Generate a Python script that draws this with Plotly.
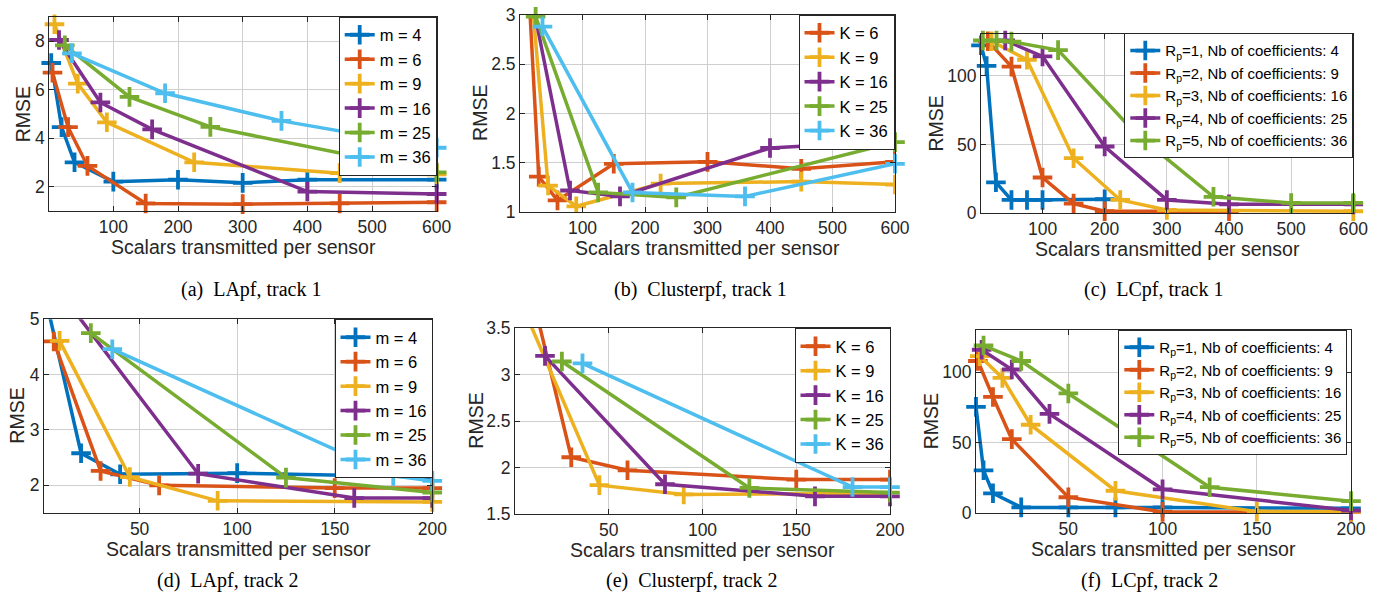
import plotly.graph_objects as go

W, H = 1379, 602

# MATLAB default colour order
BLUE, ORANGE, YELLOW, PURPLE, GREEN, CYAN = "#0072BD", "#D95319", "#EDB120", "#7E2F8E", "#77AC30", "#4DBEEE"

# ---------------- (a) LApf, track 1 ----------------
a_names = ["m = 4", "m = 6", "m = 9", "m = 16", "m = 25", "m = 36"]
a_x_m4 = [4, 20, 40, 100, 200, 300, 400, 600]
a_y_m4 = [7.1, 4.45, 3.0, 2.2, 2.28, 2.15, 2.28, 2.28]
a_x_m6 = [6, 30, 60, 150, 300, 450, 600]
a_y_m6 = [6.7, 4.45, 2.85, 1.3, 1.27, 1.3, 1.35]
a_x_m9 = [9, 45, 90, 225, 450, 600]
a_y_m9 = [8.7, 6.25, 4.65, 3.0, 2.55, 2.5]
a_x_m16 = [16, 80, 160, 400, 600]
a_y_m16 = [8.05, 5.47, 4.36, 1.79, 1.69]
a_x_m25 = [25, 125, 250, 600]
a_y_m25 = [7.83, 5.7, 4.46, 2.58]
a_x_m36 = [36, 180, 360, 600]
a_y_m36 = [7.5, 5.85, 4.71, 3.6]

# ---------------- (b) Clusterpf, track 1 ----------------
b_names = ["K = 6", "K = 9", "K = 16", "K = 25", "K = 36"]
b_x_k6 = [6, 30, 60, 150, 300, 450, 600]
b_y_k6 = [4.2, 1.36, 1.12, 1.49, 1.51, 1.44, 1.51]
b_x_k9 = [9, 45, 90, 225, 450, 600]
b_y_k9 = [3.9, 1.27, 1.06, 1.29, 1.31, 1.28]
b_x_k16 = [16, 80, 160, 400, 600]
b_y_k16 = [3.25, 1.22, 1.16, 1.65, 1.72]
b_x_k25 = [25, 125, 250, 600]
b_y_k25 = [2.98, 1.2, 1.15, 1.71]
b_x_k36 = [36, 180, 360, 600]
b_y_k36 = [2.88, 1.2, 1.16, 1.49]

# ---------------- (c) LCpf, track 1 ----------------
c_names = ["R<sub>p</sub>=1, Nb of coefficients: 4",
           "R<sub>p</sub>=2, Nb of coefficients: 9",
           "R<sub>p</sub>=3, Nb of coefficients: 16",
           "R<sub>p</sub>=4, Nb of coefficients: 25",
           "R<sub>p</sub>=5, Nb of coefficients: 36"]
c_x_r1 = [1, 10, 25, 50, 75, 100, 200]
c_y_r1 = [122, 107, 22.5, 9.7, 9.7, 9.7, 10.2]
c_x_r2 = [12, 50, 100, 150, 200, 400]
c_y_r2 = [125, 106.5, 26, 7, 1.5, 1.5]
c_x_r3 = [18, 75, 150, 225, 300, 600]
c_y_r3 = [125, 111.5, 40, 9.7, 2.4, 1.5]
c_x_r4 = [40, 100, 200, 300, 400, 600]
c_y_r4 = [125.5, 114, 48.5, 9.7, 6.5, 6.5]
c_x_r5 = [4, 26, 50, 125, 250, 375, 500, 600]
c_y_r5 = [125.5, 125.5, 124.7, 118.5, 58, 12, 7.5, 7.5]

# ---------------- (d) LApf, track 2 ----------------
d_x_m4 = [3, 20, 40, 100, 200]
d_y_m4 = [5.2, 2.58, 2.2, 2.22, 2.15]
d_x_m6 = [6, 30, 60, 150, 200]
d_y_m6 = [4.6, 2.26, 2.0, 1.95, 1.95]
d_x_m9 = [9, 45, 90, 200]
d_y_m9 = [4.61, 2.15, 1.72, 1.7]
d_x_m16 = [15, 80, 160, 200]
d_y_m16 = [5.22, 2.21, 1.77, 1.77]
d_x_m25 = [25, 125, 200]
d_y_m25 = [4.75, 2.14, 1.87]
d_x_m36 = [36, 180, 200]
d_y_m36 = [4.46, 2.17, 2.08]

# ---------------- (e) Clusterpf, track 2 ----------------
e_x_k6 = [6, 30, 60, 150, 200]
e_y_k6 = [4.12, 2.11, 1.97, 1.87, 1.87]
e_x_k9 = [5, 45, 90, 200]
e_y_k9 = [3.69, 1.81, 1.71, 1.72]
e_x_k16 = [16, 80, 160, 200]
e_y_k16 = [3.2, 1.82, 1.69, 1.69]
e_x_k25 = [25, 125, 200]
e_y_k25 = [3.14, 1.78, 1.73]
e_x_k36 = [36, 180, 200]
e_y_k36 = [3.12, 1.79, 1.79]

# ---------------- (f) LCpf, track 2 ----------------
f_x_r1 = [1, 5, 10, 25, 50, 75, 100, 200]
f_y_r1 = [75.5, 30.5, 14.2, 4.2, 4.2, 4.2, 4.2, 3.5]
f_x_r2 = [2, 10, 20, 50, 100, 200]
f_y_r2 = [108, 82.5, 52.6, 11.4, 1, 1]
f_x_r3 = [3, 15, 30, 75, 150, 200]
f_y_r3 = [111.5, 96, 62.8, 16, 1.2, 1.2]
f_x_r4 = [4, 20, 40, 100, 200]
f_y_r4 = [116, 102, 70.5, 17, 2]
f_x_r5 = [5, 25, 50, 125, 200]
f_y_r5 = [119, 108, 85, 18.5, 8.6]

captions = ["(a)\u2002LApf, track 1", "(b)\u2002Clusterpf, track 1", "(c)\u2002LCpf, track 1",
            "(d)\u2002LApf, track 2", "(e)\u2002Clusterpf, track 2", "(f)\u2002LCpf, track 2"]
x_title = "Scalars transmitted per sensor"
y_title = "RMSE"

six = [BLUE, ORANGE, YELLOW, PURPLE, GREEN, CYAN]
five_k = [ORANGE, YELLOW, PURPLE, GREEN, CYAN]
five_r = [BLUE, ORANGE, YELLOW, PURPLE, GREEN]

panels = [
    dict(series=list(zip(a_names, six, [a_x_m4, a_x_m6, a_x_m9, a_x_m16, a_x_m25, a_x_m36],
                         [a_y_m4, a_y_m6, a_y_m9, a_y_m16, a_y_m25, a_y_m36])),
         box=(49.3, 436.7, 17, 210.7), xr=[1, 600], yr=[1, 9], xt=[100, 200, 300, 400, 500, 600],
         yt=[2, 4, 6, 8], leg=(436.7, 16.5), lfs=16.5, ylab=22.5, cap=(251, 289)),
    dict(series=list(zip(b_names, five_k, [b_x_k6, b_x_k9, b_x_k16, b_x_k25, b_x_k36],
                         [b_y_k6, b_y_k9, b_y_k16, b_y_k25, b_y_k36])),
         box=(520, 895, 14.7, 212.2), xr=[0, 600], yr=[1, 3], xt=[100, 200, 300, 400, 500, 600],
         yt=[1, 1.5, 2, 2.5, 3], leg=(894.5, 14.5), lfs=16.5, ylab=480.5, cap=(700, 289)),
    dict(series=list(zip(c_names, five_r, [c_x_r1, c_x_r2, c_x_r3, c_x_r4, c_x_r5],
                         [c_y_r1, c_y_r2, c_y_r3, c_y_r4, c_y_r5])),
         box=(981, 1353.3, 34.3, 213.3), xr=[1, 600], yr=[0, 130], xt=[100, 200, 300, 400, 500, 600],
         yt=[0, 50, 100], leg=(1353.3, 33.3), lfs=15, ylab=935.7, cap=(1153, 289)),
    dict(series=list(zip(a_names, six, [d_x_m4, d_x_m6, d_x_m9, d_x_m16, d_x_m25, d_x_m36],
                         [d_y_m4, d_y_m6, d_y_m9, d_y_m16, d_y_m25, d_y_m36])),
         box=(44, 432.3, 319.3, 513), xr=[1, 200], yr=[1.5, 5], xt=[50, 100, 150, 200],
         yt=[2, 3, 4, 5], leg=(432.5, 319), lfs=16.5, ylab=17.5, cap=(228, 580)),
    dict(series=list(zip(b_names, five_k, [e_x_k6, e_x_k9, e_x_k16, e_x_k25, e_x_k36],
                         [e_y_k6, e_y_k9, e_y_k16, e_y_k25, e_y_k36])),
         box=(515, 890, 328, 514), xr=[0, 200], yr=[1.5, 3.5], xt=[50, 100, 150, 200],
         yt=[1.5, 2, 2.5, 3, 3.5], leg=(890.5, 328), lfs=16.5, ylab=475.7, cap=(691.5, 580)),
    dict(series=list(zip(c_names, five_r, [f_x_r1, f_x_r2, f_x_r3, f_x_r4, f_x_r5],
                         [f_y_r1, f_y_r2, f_y_r3, f_y_r4, f_y_r5])),
         box=(976, 1351, 330, 513.3), xr=[1, 200], yr=[0, 130], xt=[50, 100, 150, 200],
         yt=[0, 50, 100], leg=(1347.3, 330), lfs=15, ylab=930.7, cap=(1149, 580)),
]

SANS = "Liberation Sans, Arial, Helvetica, sans-serif"
SERIF = "Liberation Serif, Times New Roman, serif"
AX = "#262626"

fig = go.Figure()
annotations = []
layout = dict(width=W, height=H, margin=dict(l=0, r=0, t=0, b=0, autoexpand=False), autosize=False,
              paper_bgcolor="white", plot_bgcolor="white", showlegend=True)

for i, p in enumerate(panels):
    k = i + 1
    sfx = "" if k == 1 else str(k)
    x0, x1, y0, y1 = p["box"]
    legname = "legend" if k == 1 else f"legend{k}"
    for name, col, xs, ys in p["series"]:
        outside = any(v > p["yr"][1] for v in ys)
        fig.add_trace(go.Scatter(
            x=xs, y=ys, name=name, mode="lines+markers",
            line=dict(color=col, width=3.5),
            marker=dict(symbol="cross-thin", size=14, color=col, line=dict(color=col, width=3.8)),
            xaxis="x" + sfx, yaxis="y" + sfx, legend=legname, cliponaxis=outside))
    common = dict(showline=True, linecolor=AX, linewidth=1, mirror="allticks", ticks="inside",
                  ticklen=5, tickcolor=AX, tickwidth=1, showgrid=True, gridcolor="#cfcfcf",
                  gridwidth=1, zeroline=False, automargin=False,
                  tickfont=dict(family=SANS, size=17.5, color=AX))
    layout["xaxis" + sfx] = dict(common, domain=[x0 / W, x1 / W], range=p["xr"], tickvals=p["xt"],
                                 anchor="y" + sfx)
    layout["yaxis" + sfx] = dict(common, domain=[1 - y1 / H, 1 - y0 / H], range=p["yr"], tickvals=p["yt"],
                                 anchor="x" + sfx)
    lx, ly = p["leg"]
    layout[legname] = dict(x=lx / W, y=1 - ly / H, xanchor="right", yanchor="top", xref="paper", yref="paper",
                           bgcolor="white", bordercolor=AX, borderwidth=1,
                           font=dict(family=SANS, size=p["lfs"], color="black"),
                           itemwidth=30, tracegroupgap=0)
    annotations.append(dict(x=(x0 + x1) / 2 / W, y=1 - (y1 + 36) / H, xref="paper", yref="paper",
                            text=x_title, showarrow=False, xanchor="center", yanchor="middle",
                            font=dict(family=SANS, size=19.5, color=AX)))
    annotations.append(dict(x=p["ylab"] / W, y=1 - (y0 + y1) / 2 / H, xref="paper", yref="paper",
                            text=y_title, showarrow=False, textangle=-90, xanchor="center", yanchor="middle",
                            font=dict(family=SANS, size=19.5, color=AX)))
    cx, cy = p["cap"]
    annotations.append(dict(x=cx / W, y=1 - cy / H, xref="paper", yref="paper", text=captions[i],
                            showarrow=False, xanchor="center", yanchor="middle",
                            font=dict(family=SERIF, size=20, color="black")))

layout["annotations"] = annotations
fig.update_layout(**layout)
fig.write_html("out.html", config={"displayModeBar": False},
               post_script="document.body.style.margin='0';document.body.style.padding='0';"
                           "document.documentElement.style.margin='0';")
